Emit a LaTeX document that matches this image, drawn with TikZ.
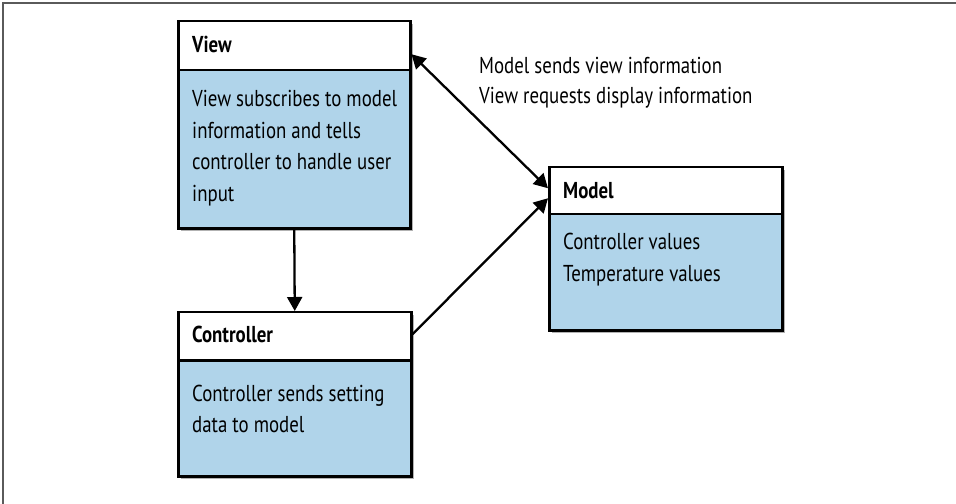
\documentclass[tikz,border=0pt]{standalone}
\usepackage{fontspec}
\setmainfont{PT Sans}[FakeStretch=0.82]
\usetikzlibrary{arrows.meta,shadows,calc}
\definecolor{bodyblue}{RGB}{176,212,234}
\definecolor{framegray}{RGB}{90,90,90}
\begin{document}
\begin{tikzpicture}[x=1bp,y=-1bp,
  box/.style={draw=black, line width=2.5bp, fill=bodyblue, inner sep=0pt, anchor=north west,
    drop shadow={shadow xshift=3bp, shadow yshift=-3bp, fill=black, opacity=0.3}},
  head/.style={draw=black, line width=2.5bp, fill=white, inner sep=0pt, anchor=north west},
  txt/.style={anchor=base west, inner sep=0pt, font=\fontsize{23bp}{27bp}\selectfont},
  htxt/.style={anchor=base west, inner sep=0pt, font=\fontsize{23bp}{27bp}\selectfont\bfseries},
  arr/.style={line width=2.3bp, -{Triangle[length=14bp,width=15bp]}},
  dblarr/.style={line width=2.3bp, {Triangle[length=14bp,width=15bp]}-{Triangle[length=14bp,width=15bp]}}]

\useasboundingbox (0,0) rectangle (956,504);
\fill[white] (0,0) rectangle (956,504);
\draw[framegray, line width=1.5bp] (3,504) -- (3,3) -- (956,3);

% View
\node[box, minimum width=232bp, minimum height=207bp] (view) at (177,20) {};
\node[head, minimum width=232bp, minimum height=49bp] (vhead) at (177,20) {};
\node[htxt] (vtitle) at (192,52.3) {View};
\node[txt] (vl1) at (192,106.7) {View subscribes to model};
\node[txt] (vl2) at (192,138.3) {information and tells};
\node[txt] (vl3) at (192,170) {controller to handle user};
\node[txt] (vl4) at (192,201.7) {input};

% Controller
\node[box, minimum width=233bp, minimum height=164bp] (ctrl) at (177,311) {};
\node[head, minimum width=233bp, minimum height=48bp] (chead) at (177,311) {};
\node[htxt] (ctitle) at (192,343) {Controller};
\node[txt] (cl1) at (192,401.7) {Controller sends setting};
\node[txt] (cl2) at (192,432.3) {data to model};

% Model
\node[box, minimum width=233bp, minimum height=163bp] (model) at (548,166) {};
\node[head, minimum width=233bp, minimum height=47bp] (mhead) at (548,166) {};
\node[htxt] (mtitle) at (563,198.3) {Model};
\node[txt] (ml1) at (563,250) {Controller values};
\node[txt] (ml2) at (563,281.7) {Temperature values};

% label
\node[txt] (lab1) at (479,73.3) {Model sends view information};
\node[txt] (lab2) at (479,103.3) {View requests display information};

% connectors
\draw[arr] (view.south) -- (chead.north);
\draw[dblarr] ([yshift=-8.5bp]vhead.east) -- ([yshift=2.5bp]mhead.west);
\draw[arr] ([yshift=2bp]chead.east) -- ([yshift=-7.5bp]mhead.west);
\end{tikzpicture}
\end{document}
